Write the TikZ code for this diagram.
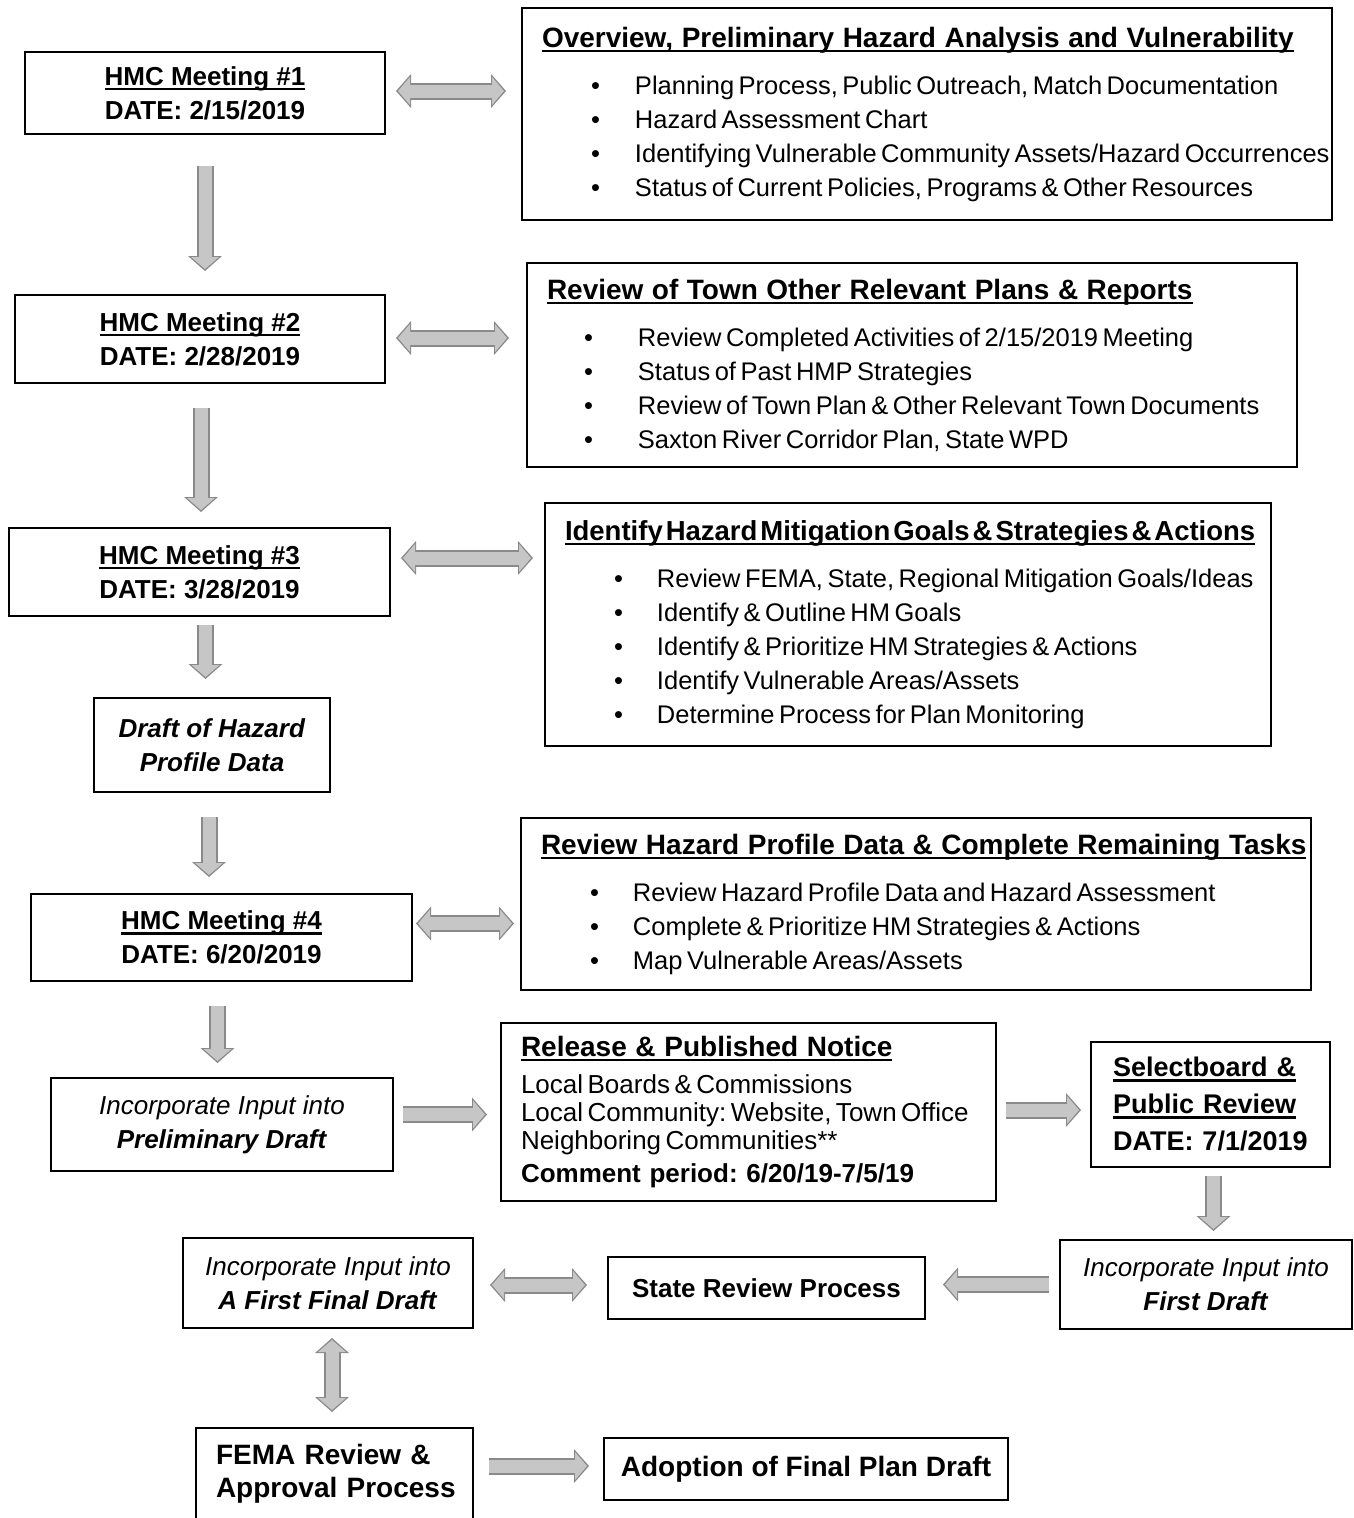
\documentclass[tikz,border=0pt]{standalone}
\usepackage{fontspec}
\setmainfont{Liberation Sans}
\frenchspacing
\usetikzlibrary{arrows.meta,calc}

\definecolor{arrfill}{HTML}{C6C6C6}
\definecolor{arredge}{HTML}{8A8A8A}
\newcommand{\tightsp}{\spaceskip=4.5pt plus 1pt minus 1pt\relax}
\newcommand{\itm}[3]{\mbox{\tightsp\hspace*{#1}\makebox[#2][l]{\textbullet}#3}}
\newcommand{\ulin}[1]{\leavevmode\setbox0\hbox{#1}\rlap{\rule[-5pt]{\wd0}{2.4pt}}\box0}
\tikzset{
  box/.style={draw,line width=2pt,inner sep=6pt,align=center,font=\fontsize{26}{34}\selectfont},
  listbox/.style={draw,line width=2pt,inner xsep=20pt,inner ysep=6pt,align=left,font=\fontsize{25.5}{34}\selectfont},
  fat/.style={line width=13pt,draw=arrfill,shorten >=2pt,-{Triangle[length=12pt,width=28pt,line width=0pt]},
    preaction={draw=arredge,line width=17pt,shorten >=0pt,-{Triangle[length=15pt,width=34pt,line width=0pt]}}},
  fatboth/.style={line width=13pt,draw=arrfill,shorten >=2pt,shorten <=2pt,
    {Triangle[length=12pt,width=28pt,line width=0pt]}-{Triangle[length=12pt,width=28pt,line width=0pt]},
    preaction={draw=arredge,line width=17pt,shorten >=0pt,shorten <=0pt,
    {Triangle[length=15pt,width=34pt,line width=0pt]}-{Triangle[length=15pt,width=34pt,line width=0pt]}}}
}

\begin{document}
\begin{tikzpicture}[x=1pt,y=-1pt]
\path[use as bounding box,fill=white] (0,0) rectangle (1353,1518);

\node[box,minimum width=360pt,minimum height=82pt] (m1) at (205,93) {\textbf{\ulin{HMC Meeting \#1}}\\\textbf{DATE: 2/15/2019}};
\node[listbox,minimum width=810pt,minimum height=212pt,text width=770pt] (ov) at (927,114) {{\bfseries\fontsize{28}{34}\selectfont\ulin{Overview, Preliminary Hazard Analysis and Vulnerability}}\\[13pt]
\itm{49pt}{44pt}{Planning Process, Public Outreach, Match Documentation}\\
\itm{49pt}{44pt}{Hazard Assessment Chart}\\
\itm{49pt}{44pt}{Identifying Vulnerable Community Assets/Hazard Occurrences}\\
\itm{49pt}{44pt}{Status of Current Policies, Programs \& Other Resources}};

\node[box,minimum width=370pt,minimum height=88pt] (m2) at (200,339) {\textbf{\ulin{HMC Meeting \#2}}\\\textbf{DATE: 2/28/2019}};
\node[listbox,minimum width=770pt,minimum height=204pt,text width=730pt] (rv) at (912,365) {{\bfseries\fontsize{28}{34}\selectfont\ulin{Review of Town Other Relevant Plans \& Reports}}\\[13pt]
\itm{37pt}{54pt}{Review Completed Activities of 2/15/2019 Meeting}\\
\itm{37pt}{54pt}{Status of Past HMP Strategies}\\
\itm{37pt}{54pt}{Review of Town Plan \& Other Relevant Town Documents}\\
\itm{37pt}{54pt}{Saxton River Corridor Plan, State WPD}};

\node[box,minimum width=381pt,minimum height=88pt] (m3) at (199.5,572) {\textbf{\ulin{HMC Meeting \#3}}\\\textbf{DATE: 3/28/2019}};
\node[listbox,minimum width=726pt,minimum height=243pt,text width=686pt] (id) at (908,624.5) {{\bfseries\fontsize{27.5}{34}\selectfont\spaceskip=3pt\relax\ulin{Identify Hazard Mitigation Goals \& Strategies \& Actions}}\\[13pt]
\itm{49pt}{43pt}{Review FEMA, State, Regional Mitigation Goals/Ideas}\\
\itm{49pt}{43pt}{Identify \& Outline HM Goals}\\
\itm{49pt}{43pt}{Identify \& Prioritize HM Strategies \& Actions}\\
\itm{49pt}{43pt}{Identify Vulnerable Areas/Assets}\\
\itm{49pt}{43pt}{Determine Process for Plan Monitoring}};

\node[box,minimum width=236pt,minimum height=94pt] (dr) at (212,745) {\textbf{\textit{Draft of Hazard}}\\\textbf{\textit{Profile Data}}};

\node[box,minimum width=381pt,minimum height=87pt] (m4) at (221.5,937.5) {\textbf{\ulin{HMC Meeting \#4}}\\\textbf{DATE: 6/20/2019}};
\node[listbox,minimum width=790pt,minimum height=172pt,text width=750pt] (rh) at (916,904) {{\bfseries\fontsize{28}{34}\selectfont\ulin{Review Hazard Profile Data \& Complete Remaining Tasks}}\\[13pt]
\itm{49pt}{43pt}{Review Hazard Profile Data and Hazard Assessment}\\
\itm{49pt}{43pt}{Complete \& Prioritize HM Strategies \& Actions}\\
\itm{49pt}{43pt}{Map Vulnerable Areas/Assets}};

\node[box,minimum width=342pt,minimum height=93pt] (pre) at (222,1124.5) {\textit{Incorporate Input into}\\\textbf{\textit{Preliminary Draft}}};
\node[listbox,minimum width=495pt,minimum height=178pt,text width=455pt,font=\fontsize{26}{28}\selectfont] (rel) at (748.5,1112) {{\bfseries\fontsize{28}{30}\selectfont\ulin{Release \& Published Notice}}\\[9pt]
\mbox{\tightsp Local Boards \& Commissions}\\
\mbox{\tightsp Local Community: Website, Town Office}\\
\mbox{\tightsp Neighboring Communities**}\\[5pt]
{\bfseries\mbox{Comment period: 6/20/19-7/5/19}}};
\node[listbox,minimum width=239pt,minimum height=125pt,inner xsep=22pt,text width=195pt,font=\bfseries\fontsize{27}{37}\selectfont] (sel) at (1210.5,1104) {\ulin{Selectboard \&}\\\ulin{Public Review}\\\mbox{DATE: 7/1/2019}};

\node[box,minimum width=292pt,minimum height=89pt] (fd) at (1206,1284.5) {\textit{Incorporate Input into}\\\textbf{\textit{First Draft}}};
\node[box,minimum width=317pt,minimum height=62pt,font=\bfseries\fontsize{26}{34}\selectfont] (st) at (766.5,1288) {State Review Process};
\node[box,minimum width=290pt,minimum height=90pt] (ffd) at (328,1283) {\textit{Incorporate Input into}\\\textbf{\textit{A First Final Draft}}};
\node[listbox,minimum width=277pt,inner ysep=16pt,text width=237pt,text depth=50pt,anchor=north,font=\bfseries\fontsize{28}{33}\selectfont] (fema) at (334.5,1427) {\mbox{FEMA Review \&}\\\mbox{Approval Process}};
\node[box,minimum width=404pt,minimum height=62pt,font=\bfseries\fontsize{28}{34}\selectfont] (ad) at (806,1469) {Adoption of Final Plan Draft};

\draw[fatboth] ($(m1.east)+(10,-2)$) -- ($(m1.east -| ov.west)+(-15,-2)$);
\draw[fat] ($(m1.south)+(0,31)$) -- ($(m1.south |- m2.north)+(0,-23)$);
\draw[fatboth] ($(m2.east)+(10,-1)$) -- ($(m2.east -| rv.west)+(-17,-1)$);
\draw[fat] ($(m2.south)+(1,24)$) -- ($(m2.south |- m3.north)+(1,-15)$);
\draw[fatboth] ($(m3.east)+(10,-14)$) -- ($(m3.east -| id.west)+(-11,-14)$);
\draw[fat] ($(m3.south)+(6,8)$) -- ($(m3.south |- dr.north)+(6,-18)$);
\draw[fat] ($(dr.south)+(-3,24)$) -- ($(dr.south |- m4.north)+(-3,-16)$);
\draw[fatboth] ($(m4.east)+(3,-14)$) -- ($(m4.east -| rh.west)+(-6,-14)$);
\draw[fat] ($(m4.south)+(-4,24)$) -- ($(m4.south |- pre.north)+(-4,-14)$);
\draw[fat] ($(pre.east)+(9,-10)$) -- ($(pre.east -| rel.west)+(-13,-10)$);
\draw[fat] ($(rel.east)+(9,-2)$) -- ($(rel.east -| sel.west)+(-9,-2)$);
\draw[fat] ($(sel.south)+(3,8)$) -- ($(sel.south |- fd.north)+(3,-8)$);
\draw[fat] ($(fd.west)+(-10,0)$) -- ($(fd.west -| st.east)+(17,0)$);
\draw[fatboth] ($(st.west)+(-20,-3)$) -- ($(st.west -| ffd.east)+(16,-3)$);
\draw[fatboth] ($(ffd.south)+(4,9)$) -- ($(ffd.south |- fema.north)+(4,-15)$);
\draw[fat] ($(ad.west -| fema.east)+(15,-3)$) -- ($(ad.west)+(-14,-3)$);
\end{tikzpicture}
\end{document}
